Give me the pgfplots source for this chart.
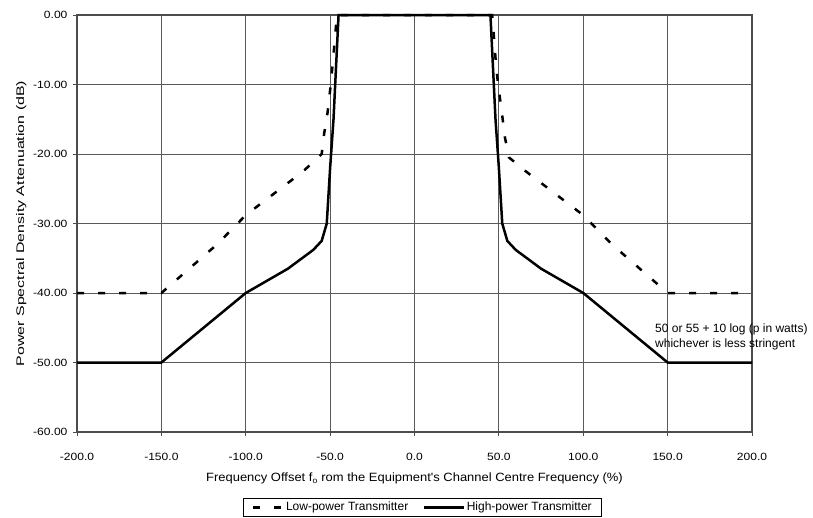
\documentclass[border=0pt]{standalone}
\usepackage{pgfplots}
\pgfplotsset{compat=1.18}
\usepackage{fontspec}
\setmainfont{Liberation Sans}
\newfontfamily\tickfont[FakeStretch=1.15]{Liberation Sans}
\newfontfamily\xlabfont[FakeStretch=1.08]{Liberation Sans}
\newfontfamily\ylabfont[FakeStretch=1.45]{Liberation Sans}
\pgfplotsset{
    longleg/.style={legend image code/.code={\draw[##1] (-10pt,0pt) -- (30pt,0pt);}},
}

\begin{document}
\begin{tikzpicture}
\useasboundingbox (-77pt,-85pt) rectangle (736pt,432pt);
\begin{axis}[
    at={(0,0)}, anchor=south west,
    scale only axis,
    width=675pt, height=417pt,
    xmin=-200, xmax=200,
    ymin=-60, ymax=0,
    clip=false,
    xtick={-200,-150,...,200},
    ytick={-60,-50,...,0},
    xticklabels={-200.0,-150.0,-100.0,-50.0,0.0,50.0,100.0,150.0,200.0},
    yticklabels={-60.00,-50.00,-40.00,-30.00,-20.00,-10.00,0.00},
    ticklabel style={font=\tickfont\fontsize{10.5}{12}\selectfont},
    xticklabel style={yshift=-14pt},
    yticklabel style={xshift=-2pt},
    tick align=outside,
    tick style={black!70, line width=0.8pt},
    major tick length=4pt,
    xtick pos=bottom, ytick pos=left,
    grid=major,
    major grid style={black!65, line width=0.9pt},
    axis line style={black!70, line width=1.2pt},
    xlabel={Frequency Offset f\textsubscript{o} rom the Equipment's Channel Centre Frequency (\%)},
    ylabel={Power Spectral Density Attenuation (dB)},
    xlabel style={font=\xlabfont\fontsize{12}{14}\selectfont, yshift=-5pt},
    ylabel style={font=\ylabfont\fontsize{11}{13}\selectfont, yshift=0pt},
    legend columns=2,
    legend style={at={(0.512,-0.158)}, anchor=north,
        draw=black, line width=0.8pt, font=\fontsize{12}{14}\selectfont,
        inner xsep=8pt, inner ysep=2pt,
        /tikz/every even column/.append style={column sep=12pt}},
    legend image code/.code={\draw[#1] (0pt,0pt) -- (30pt,0pt);},
]
% Low-power transmitter
\addplot[black, line width=2.5pt, dash pattern=on 7pt off 14pt] coordinates {
    (-200,-40) (-150,-40) (-117,-33) (-100,-28.8) (-66,-22.5) (-55,-20)
    (-53.5,-17) (-51.5,-14) (-50,-10.8) (-48.8,-7.8) (-47,-3) (-46,0)
    (46,0) (47,-3) (48.5,-7.8) (50,-10.8) (52,-14.5) (53.5,-17.5) (56,-20.5)
    (66,-22.5) (100,-28.8) (117,-33) (150,-40) (200,-40)
};
\addlegendentry{Low-power Transmitter}
% High-power transmitter
\addplot[black, line width=2.5pt, longleg] coordinates {
    (-200,-50) (-150,-50) (-100,-40) (-75,-36.5) (-60,-33.8) (-55,-32.5)
    (-52,-30) (-50,-22) (-48,-15) (-46,-5) (-45,0)
    (45,0) (46,-5) (48,-15) (50,-22) (52,-30) (55,-32.5) (60,-33.8)
    (75,-36.5) (100,-40) (150,-50) (200,-50)
};
\addlegendentry{High-power Transmitter}
\node[anchor=west, align=left, font=\fontsize{12}{15.5}\selectfont, inner sep=0pt]
    at (axis cs:142.5,-46.3) {50 or 55 + 10 log (p in watts)\\whichever is less stringent};
\end{axis}
\end{tikzpicture}
\end{document}
